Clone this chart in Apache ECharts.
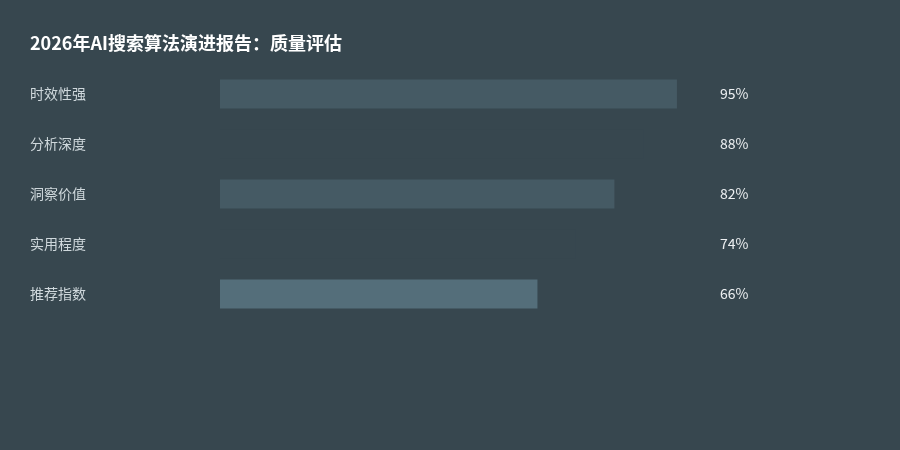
<!DOCTYPE html>
<html>
<head>
<meta charset="utf-8">
<script src="https://cdn.jsdelivr.net/npm/echarts@6/dist/echarts.min.js"></script>
<style>
html,body{margin:0;padding:0;background:#37474f;}
#chart{width:900px;height:450px;}
</style>
</head>
<body>
<div id="chart"></div>
<script>
const titleText = '2026年AI搜索算法演进报告：质量评估';
const categories = ['时效性强', '分析深度', '洞察价值', '实用程度', '推荐指数'];
const values = [95, 88, 82, 74, 66];
const barColors = ['#455a64', '#37474f', '#455a64', '#37474f', '#546e7a'];

const chart = echarts.init(document.getElementById('chart'));
const font = '"Noto Sans CJK SC", "Noto Sans", sans-serif';
chart.setOption({
  backgroundColor: '#37474f',
  animation: false,
  title: {
    text: titleText,
    left: 30,
    top: 34,
    padding: 0,
    textStyle: { color: '#ffffff', fontSize: 18, fontWeight: 'bold', fontFamily: font }
  },
  grid: { left: 220, right: 199, top: 69, bottom: 131, containLabel: false },
  xAxis: {
    type: 'value', min: 0, max: 100, show: false
  },
  yAxis: [
    {
      type: 'category', data: categories, inverse: true,
      axisLine: { show: false }, axisTick: { show: false }, splitLine: { show: false },
      axisLabel: { color: '#cfd8dc', fontSize: 14, fontFamily: font, align: 'left', margin: 190 }
    },
    {
      type: 'category', data: values.map(v => v + '%'), inverse: true, position: 'right',
      axisLine: { show: false }, axisTick: { show: false }, splitLine: { show: false },
      axisLabel: { color: '#eceff1', fontSize: 14, fontFamily: font, align: 'left', margin: 19 }
    }
  ],
  series: [{
    type: 'bar',
    barWidth: 29,
    data: values.map((v, i) => ({ value: v, itemStyle: { color: barColors[i] } }))
  }]
});
</script>
</body>
</html>
